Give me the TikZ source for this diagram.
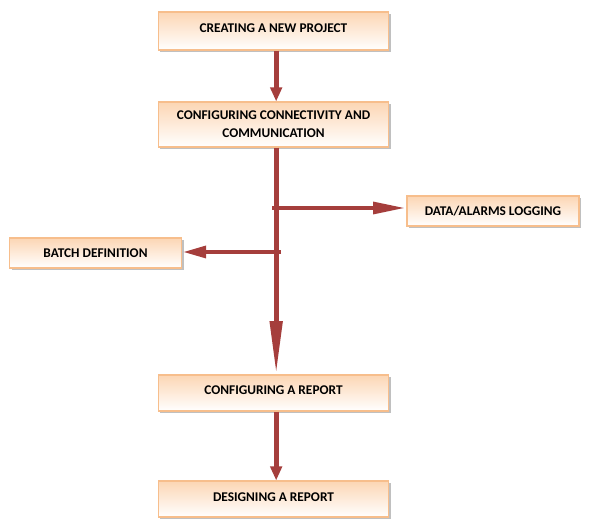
\documentclass[tikz,border=0pt]{standalone}
\usepackage{fontspec}
\setmainfont{Carlito}
\usetikzlibrary{arrows.meta,shadows}

\definecolor{arrowred}{RGB}{165,62,60}
\definecolor{boxpeach}{RGB}{252,214,180}
\definecolor{boxedge}{RGB}{247,190,140}

\tikzset{every picture/.style={line width=0.75pt}}
\tikzset{
  stepbox/.style={rectangle, draw=boxedge, line width=0.8pt, top color=boxpeach, bottom color=white,
    minimum width=173pt, minimum height=27pt, align=center, inner sep=1pt,
    font=\fontsize{10}{13.5}\selectfont\bfseries,
    drop shadow={shadow xshift=1.6pt, shadow yshift=-1.6pt, fill=black!45, opacity=0.55}},
  oneline/.style={text height=7pt, text depth=4pt},
  sidebox/.style={stepbox, minimum width=129pt, minimum height=22.5pt},
  flowarrow/.style={draw=arrowred, line width=3.6pt, -{Triangle[length=10.5pt,width=8.5pt]}},
}

\begin{document}
\begin{tikzpicture}[x=0.75pt,y=0.75pt,yscale=-1,xscale=1]
\useasboundingbox (0,0) rectangle (592,530);

% Boxes
\node [stepbox, oneline, minimum height=28.5pt] (project) at (273.5,31) {CREATING A NEW PROJECT};
\node [stepbox, minimum height=33.75pt] (connect) at (273.5,124.5) {CONFIGURING CONNECTIVITY AND\\COMMUNICATION};
\node [sidebox] (logging) at (493,211) {DATA/ALARMS LOGGING};
\node [sidebox] (batch) at (95.5,253) {BATCH DEFINITION};
\node [stepbox, oneline] (configrep) at (273.5,393) {CONFIGURING A REPORT};
\node [stepbox, oneline] (designrep) at (273.5,499) {DESIGNING A REPORT};

% Branch points on the trunk
\coordinate (toright) at (272,208);
\coordinate (toleft) at (281,252);

% Arrows
\draw [flowarrow] ([xshift=2pt]project.south) -- ([xshift=2pt]connect.north);
\draw [flowarrow, -{Triangle[length=40pt,width=9pt]}] ([xshift=2pt]connect.south) -- ([xshift=2pt]configrep.north);
\draw [flowarrow, -{Triangle[length=25pt,width=8.5pt]}] (toright) -- (toright -| logging.west);
\draw [flowarrow, -{Triangle[length=18pt,width=8.5pt]}] (toleft) -- (toleft -| batch.east);
\draw [flowarrow] ([xshift=2pt]configrep.south) -- ([xshift=2pt]designrep.north);

\end{tikzpicture}
\end{document}
